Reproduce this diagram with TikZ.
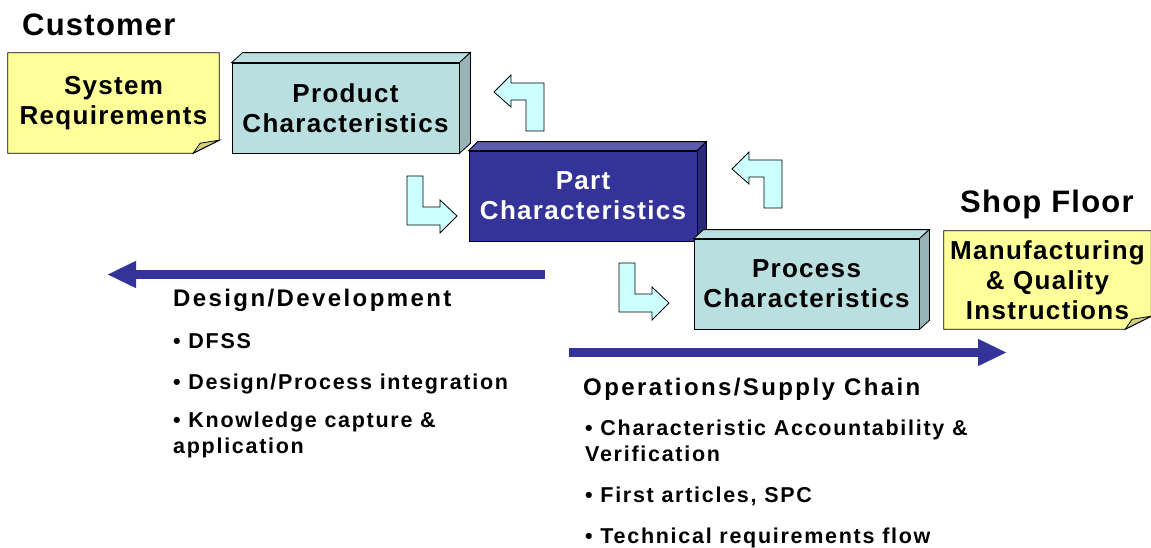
\documentclass[tikz,border=0pt]{standalone}
\usepackage{fontspec}
\setmainfont{Liberation Sans}
\newfontfamily\headfont{Liberation Sans}[LetterSpace=4]
\newfontfamily\boxfont{Liberation Sans}[LetterSpace=5]
\newfontfamily\subfont{Liberation Sans}[LetterSpace=10]
\newfontfamily\itemfont{Liberation Sans}[LetterSpace=8]
\usetikzlibrary{calc,arrows.meta}

\definecolor{note}{HTML}{FFFF99}
\definecolor{notefold}{HTML}{D2D27E}
\definecolor{cfront}{HTML}{BADFE1}
\definecolor{cside}{HTML}{99B4B7}
\definecolor{navy}{HTML}{333399}
\definecolor{navytop}{HTML}{5C5CAE}
\definecolor{navyside}{HTML}{29297D}
\definecolor{elbowfill}{HTML}{CCFFFF}

\tikzset{
  cbox/.style={draw, line width=0.8pt, fill=cfront, align=center,
    minimum height=90pt, inner sep=2pt,
    font=\boxfont\bfseries\fontsize{26}{30}\selectfont},
  note/.style={fill=note, align=center, inner sep=2pt,
    font=\boxfont\bfseries\fontsize{26}{30}\selectfont},
  elbow/.style={draw, fill=elbowfill, line width=0.8pt},
  bigarrow/.style={navy, line width=9pt, -{Triangle[length=29pt,width=25pt]}},
  head/.style={anchor=base west, inner sep=0pt,
    font=\headfont\bfseries\fontsize{31}{36}\selectfont},
  sub/.style={anchor=base west, inner sep=0pt,
    font=\subfont\bfseries\fontsize{24}{28}\selectfont},
  item/.style={anchor=base west, inner sep=0pt,
    font=\itemfont\bfseries\fontsize{21.5}{25}\selectfont}
}

% top and right faces of a block: node, top colour, side colour, depth
\newcommand{\sides}[4]{%
  \filldraw[fill=#2, line width=0.8pt] (#1.north west) -- ++(#4)
    -- ($(#1.north east)+(#4)$) -- (#1.north east) -- cycle;
  \filldraw[fill=#3, line width=0.8pt] (#1.north east) -- ++(#4)
    -- ($(#1.south east)+(#4)$) -- (#1.south east) -- cycle;}

% sticky note outline with turned-up corner
\newcommand{\curl}[1]{%
  \fill[white] ($(#1.south east)+(-26,0)$) -- (#1.south east)
    -- ($(#1.south east)+(0,-13)$) -- cycle;
  \draw[line width=0.8pt] (#1.north west) -- (#1.north east)
    -- ($(#1.south east)+(0,-13)$) -- ($(#1.south east)+(-26,0)$)
    -- (#1.south west) -- cycle;
  \filldraw[fill=notefold, line width=0.8pt] ($(#1.south east)+(-26,0)$)
    -- ($(#1.south east)+(-19,-10)$) -- ($(#1.south east)+(0,-13)$) -- cycle;}

\begin{document}
\begin{tikzpicture}[x=1pt,y=-1pt]
  \fill[white] (0,0) rectangle (1151,547);
  \useasboundingbox (0,0) rectangle (1151,547);

  % Kunde
  \node[head] (cust) at (22,35) {Customer};
  \node[note, minimum width=211pt, minimum height=100pt] (sysreq) at (113.5,103)
    {System\\Requirements};
  \curl{sysreq}
  \node[cbox, minimum width=227pt] (prod) at (345.5,108) {Product\\Characteristics};
  \sides{prod}{cfront}{cside}{11,-10}

  % Knickpfeile
  \foreach \p in {(526,131),(764,208)}
    \draw[elbow, shift={\p}] (0,0) -- (0,-31) -- (-15,-31) -- (-15,-24)
      -- (-32,-39) -- (-15,-56) -- (-15,-48) -- (18,-48) -- (18,0) -- cycle;
  \foreach \p in {(407,176),(619,263)}
    \draw[elbow, shift={\p}] (0,0) -- (16,0) -- (16,31) -- (33,31) -- (33,24)
      -- (50,40) -- (33,57) -- (33,49) -- (0,49) -- cycle;

  % Teil
  \node[cbox, fill=navy, text=white, minimum width=228pt] (part) at (583,196)
    {Part\\Characteristics};
  \sides{part}{navytop}{navyside}{9,-9}

  % Werkstatt
  \node[cbox, minimum width=225pt] (proc) at (806.5,284) {Process\\Characteristics};
  \sides{proc}{cfront}{cside}{10,-9}
  \node[head] (shop) at (960,212) {Shop Floor};
  \node[note, minimum width=207pt, minimum height=98pt] (mfg) at (1047.5,280)
    {Manufacturing\\\& Quality\\Instructions};
  \curl{mfg}

  % grosse Pfeile
  \coordinate (dd-from) at (545,274.5);
  \coordinate (dd-to) at (107,274.5);
  \coordinate (ops-from) at (569,352.5);
  \coordinate (ops-to) at (1007,352.5);
  \draw[bigarrow] (dd-from) -- (dd-to);
  \draw[bigarrow] (ops-from) -- (ops-to);

  % Entwicklung
  \node[sub] (dd) at (173,306) {Design/Development};
  \node[item] (dd1) at (173,348) {• DFSS};
  \node[item] (dd2) at (173,389) {• Design/Process integration};
  \node[item] (dd3) at (173,427) {• Knowledge capture \&};
  \node[item] (dd3b) at (173,453) {application};

  % Betrieb
  \node[sub] (ops) at (583,395) {Operations/Supply Chain};
  \node[item] (ops1) at (585,435) {• Characteristic Accountability \&};
  \node[item] (ops1b) at (585,461) {Verification};
  \node[item] (ops2) at (585,502) {• First articles, SPC};
  \node[item] (ops3) at (585,543) {• Technical requirements flow};
\end{tikzpicture}
\end{document}
